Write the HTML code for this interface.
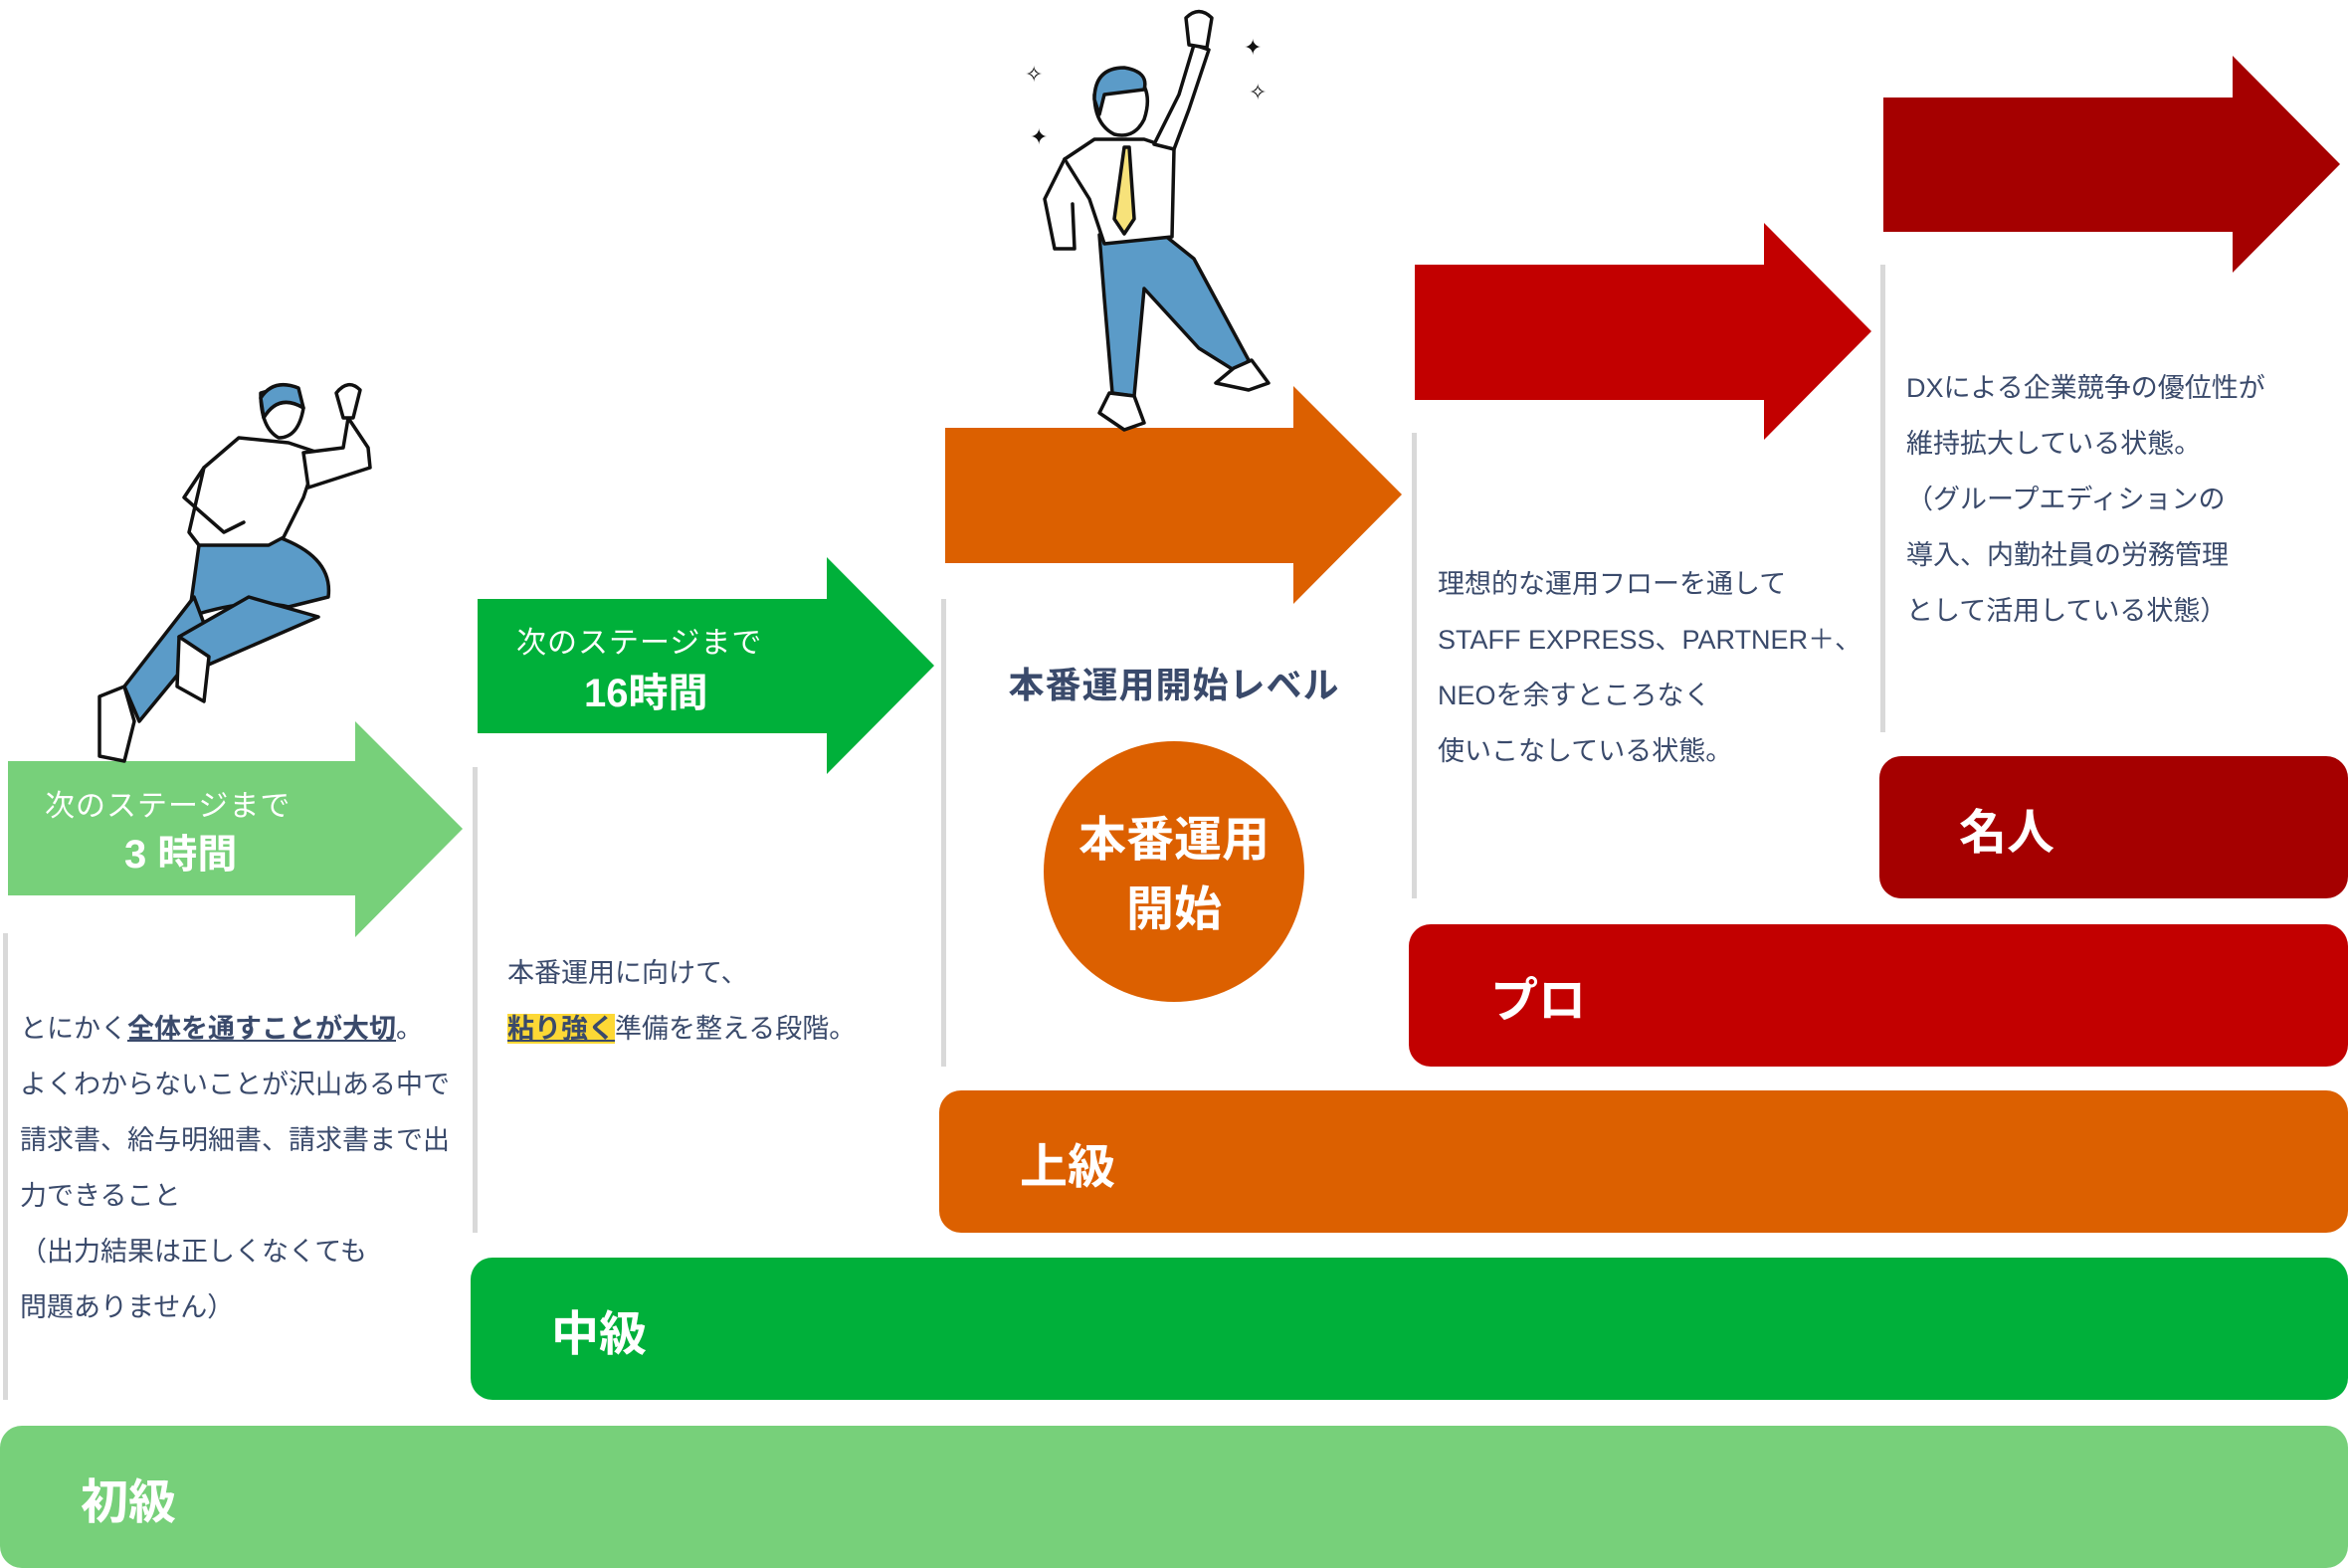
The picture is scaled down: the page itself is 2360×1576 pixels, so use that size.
<!DOCTYPE html>
<html><head><meta charset="utf-8"><style>
*{margin:0;padding:0;box-sizing:border-box}
body{width:2360px;height:1576px;position:relative;background:#fff;overflow:hidden;font-family:"Liberation Sans","Noto Sans CJK JP",sans-serif}
.a{position:absolute}
.bar{position:absolute;border-radius:22px;color:#fff;font-weight:bold;font-size:48px;display:flex;align-items:center}
.vl{position:absolute;width:5px;background:#d9d9d9}
.t{position:absolute;color:#3a4a6b;font-size:27px;line-height:56px;white-space:nowrap}
.w{position:absolute;color:#fff;white-space:nowrap}
</style></head><body>
<svg class="a" style="left:0;top:0" width="2360" height="1576">
<polygon points="8,765 357,765 357,725 465,833 357,942 357,900 8,900" fill="#77d07a"/>
<polygon points="480,602 831,602 831,560 939,669 831,778 831,737 480,737" fill="#00b03a"/>
<polygon points="950,430 1300,430 1300,388 1409,497 1300,607 1300,566 950,566" fill="#dc6000"/>
<polygon points="1422,266 1773,266 1773,224 1881,333 1773,442 1773,402 1422,402" fill="#c20000"/>
<polygon points="1893,98 2244,98 2244,56 2352,165 2244,274 2244,233 1893,233" fill="#a50000"/>
<circle cx="1180" cy="876" r="131" fill="#dc6000"/>
<!-- figure 1 -->
<g stroke="#111" stroke-width="3.5" stroke-linejoin="round" stroke-linecap="round">
<path d="M200,548 L190,620 Q250,600 290,610 L330,600 Q335,560 280,540 Z" fill="#5b9bc8"/>
<path d="M195,600 L125,690 L140,725 L210,640 Z" fill="#5b9bc8"/>
<path d="M250,600 L180,640 L205,670 L320,620 Z" fill="#5b9bc8"/>
<path d="M125,690 L100,700 L100,760 L125,765 L135,725 Z" fill="#fff"/>
<path d="M180,640 L178,690 L205,705 L210,660 Z" fill="#fff"/>
<path d="M205,470 L240,440 L290,445 L320,455 L305,500 L285,540 L270,548 L200,548 L190,535 Z" fill="#fff"/>
<path d="M305,455 L345,450 L350,420 L370,450 L372,470 L310,490 Z" fill="#fff"/>
<path d="M345,420 L338,395 Q350,380 362,392 L355,420 Z" fill="#fff"/>
<path d="M205,470 L185,500 L225,535 L245,525" fill="none"/>
<path d="M262,395 Q295,385 305,410 Q300,440 280,440 Q262,430 262,395 Z" fill="#fff"/>
<path d="M262,400 Q275,380 300,390 L305,410 Q280,395 265,420 Z" fill="#5b9bc8"/>
</g>
<!-- figure 2 -->
<g stroke="#111" stroke-width="3.5" stroke-linejoin="round" stroke-linecap="round">
<path d="M1105,236 L1110,300 L1118,395 L1140,398 L1150,290 L1205,350 L1245,375 L1255,362 L1200,260 L1170,236 Z" fill="#5b9bc8"/>
<path d="M1115,395 L1105,415 L1130,432 L1150,425 L1140,398 Z" fill="#fff"/>
<path d="M1240,370 L1222,385 L1255,392 L1275,385 L1258,362 Z" fill="#fff"/>
<path d="M1070,160 L1100,140 L1150,140 L1180,150 L1178,238 L1110,245 L1095,200 Z" fill="#fff"/>
<path d="M1070,160 L1050,200 L1060,250 L1080,250 L1078,205" fill="#fff"/>
<path d="M1160,145 L1185,95 L1200,45 L1215,50 L1195,110 L1180,150 Z" fill="#fff"/>
<path d="M1195,45 L1192,18 Q1205,5 1218,18 L1213,48 Z" fill="#fff"/>
<path d="M1130,148 L1120,220 L1130,235 L1140,220 L1135,148 Z" fill="#f7e27a"/>
<path d="M1100,95 Q1110,70 1140,75 Q1160,90 1150,120 Q1140,140 1120,135 Q1100,125 1100,95 Z" fill="#fff"/>
<path d="M1100,100 Q1100,68 1130,68 Q1155,72 1150,90 L1110,95 L1105,115 Z" fill="#5b9bc8"/>
</g>
<g fill="#111" font-size="22"><text x="1030" y="82">✧</text><text x="1255" y="100">✧</text><text x="1035" y="145">✦</text><text x="1250" y="55">✦</text></g>
</svg>

<div class="vl" style="left:3px;top:938px;height:469px"></div>
<div class="vl" style="left:475px;top:771px;height:468px"></div>
<div class="vl" style="left:946px;top:602px;height:470px"></div>
<div class="vl" style="left:1419px;top:435px;height:468px"></div>
<div class="vl" style="left:1890px;top:266px;height:470px"></div>

<div class="bar" style="left:0;top:1433px;width:2360px;height:143px;background:#77d07a;padding-left:81px">初級</div>
<div class="bar" style="left:473px;top:1264px;width:1887px;height:143px;background:#00b03a;padding-left:81px">中級</div>
<div class="bar" style="left:944px;top:1096px;width:1416px;height:143px;background:#dc6000;padding-left:81px">上級</div>
<div class="bar" style="left:1416px;top:929px;width:944px;height:143px;background:#c20000;padding-left:82px">プロ</div>
<div class="bar" style="left:1889px;top:760px;width:471px;height:143px;background:#a50000;padding-left:80px">名人</div>

<div class="w" style="left:45px;top:785px;font-size:30px;letter-spacing:1px">次のステージまで</div>
<div class="w" style="left:125px;top:826px;font-size:40px;font-weight:bold">3 時間</div>
<div class="w" style="left:519px;top:621px;font-size:30px;letter-spacing:1px">次のステージまで</div>
<div class="w" style="left:587px;top:664px;font-size:40px;font-weight:bold">16時間</div>

<div class="t" style="left:20px;top:1006px">とにかく<b style="text-decoration:underline">全体を通すことが大切</b>。<br>よくわからないことが沢山ある中で<br>請求書、給与明細書、請求書まで出<br>力できること<br>（出力結果は正しくなくても<br>問題ありません）</div>
<div class="t" style="left:510px;top:950px">本番運用に向けて、<br><b style="background:#fdd835;text-decoration:underline">粘り強く</b>準備を整える段階。</div>
<div class="a" style="left:960px;top:660px;width:440px;text-align:center;font-size:36px;font-weight:bold;color:#3a4a6b;letter-spacing:1px">本番運用開始レベル</div>
<div class="w" style="left:1049px;top:810px;width:262px;text-align:center;font-size:48px;font-weight:bold;line-height:70px">本番運用<br>開始</div>
<div class="t" style="left:1445px;top:559px">理想的な運用フローを通して<br>STAFF EXPRESS、PARTNER＋、<br>NEOを余すところなく<br>使いこなしている状態。</div>
<div class="t" style="left:1916px;top:362px">DXによる企業競争の優位性が<br>維持拡大している状態。<br>（グループエディションの<br>導入、内勤社員の労務管理<br>として活用している状態）</div>
</body></html>
